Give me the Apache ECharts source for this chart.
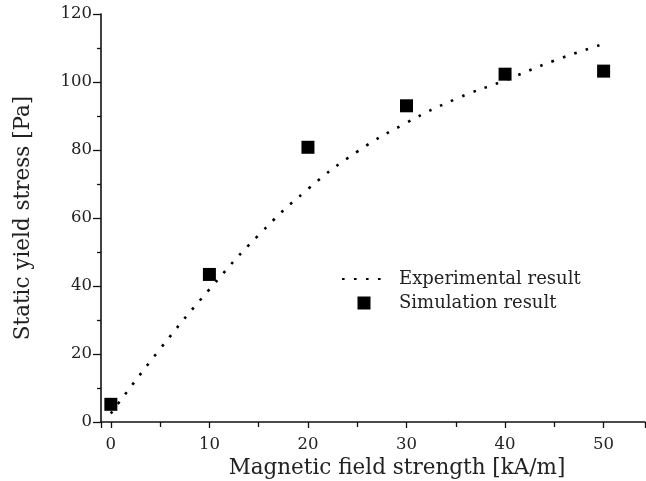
<!DOCTYPE html>
<html><head><meta charset="utf-8">
<script src="https://cdn.jsdelivr.net/npm/echarts@6/dist/echarts.min.js"></script>
<style>html,body{margin:0;padding:0;background:#fff}#c{width:646px;height:481px}</style>
</head><body><div id="c"></div>
<script>
const expX = [0, 5, 10, 15, 20, 25, 30, 35, 40, 45, 50];
const expY = [2.5, 21.5, 39, 55, 68.5, 79.5, 88, 95, 100.5, 106.3, 111.2];
const simX = [0, 10, 20, 30, 40, 50];
const simY = [5.2, 43.4, 80.8, 93, 102.3, 103.2];
const xName = 'Magnetic field strength [kA/m]';
const yName = 'Static yield stress [Pa]';
const F = 'DejaVu Serif';
const chart = echarts.init(document.getElementById('c'));
chart.setOption({
  animation: false,
  grid: {left: 101, right: 1, top: 14, bottom: 59, containLabel: false, outerBoundsMode: 'none'},
  legend: {
    orient: 'vertical', left: 336, top: 265, itemWidth: 44, itemHeight: 13, itemGap: 6,
    symbolKeepAspect: true,
    textStyle: {fontFamily: F, fontSize: 18, color: '#222', padding: [0,0,0,8]},
    data: [
      {name: 'Experimental result', itemStyle: {opacity: 0}},
      {name: 'Simulation result', icon: 'path://M0,0h10v10h-10z'}
    ]
  },
  xAxis: {
    type: 'value', min: -1, max: 54.2, splitNumber: 5,
    name: xName, nameLocation: 'middle', nameGap: 26,
    nameTextStyle: {fontFamily: F, fontSize: 21.5, color: '#222', padding: [0,0,0,48]},
    axisLine: {show: true, onZero: false, lineStyle: {color: '#111', width: 1.6}},
    axisTick: {show: true, length: 6, lineStyle: {color: '#111', width: 1.3}},
    minorTick: {show: true, splitNumber: 2, length: 5, lineStyle: {color: '#111', width: 1.3}},
    axisLabel: {fontFamily: F, fontSize: 16.5, color: '#222', margin: 14, showMinLabel: false, showMaxLabel: false,
      formatter: v => (v % 10 === 0 ? String(v) : '')},
    splitLine: {show: false}
  },
  yAxis: {
    type: 'value', min: 0, max: 120, interval: 20,
    name: yName, nameLocation: 'middle', nameGap: 67, nameRotate: 90,
    nameTextStyle: {fontFamily: F, fontSize: 21.5, color: '#222'},
    axisLine: {show: true, onZero: false, lineStyle: {color: '#111', width: 1.6}},
    axisTick: {show: true, length: 8, lineStyle: {color: '#111', width: 1.3}},
    minorTick: {show: true, splitNumber: 2, length: 4, lineStyle: {color: '#111', width: 1.3}},
    axisLabel: {fontFamily: F, fontSize: 16.5, color: '#222', margin: 9},
    splitLine: {show: false}
  },
  series: [
    {name: 'Experimental result', type: 'line', smooth: true, symbol: 'none',
     data: expX.map((x, i) => [x, expY[i]]),
     lineStyle: {color: '#000', width: 2.6, type: [2.6, 9.4]}, itemStyle: {color: '#000'}},
    {name: 'Simulation result', type: 'scatter', symbol: 'rect', symbolSize: 13,
     data: simX.map((x, i) => [x, simY[i]]), itemStyle: {color: '#000', opacity: 1}}
  ]
});
</script></body></html>
